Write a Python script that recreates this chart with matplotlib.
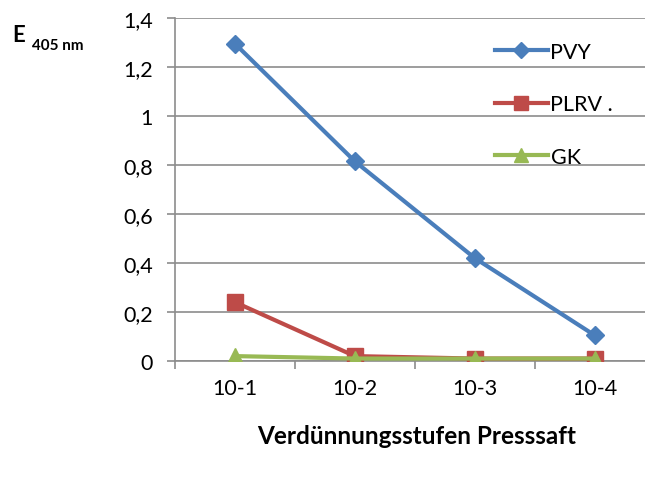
import matplotlib
matplotlib.use('Agg')
import matplotlib.pyplot as plt
from matplotlib.ticker import FuncFormatter

# Daten
stufen = ['10-1', '10-2', '10-3', '10-4']
pvy = [1.295, 0.815, 0.42, 0.105]
plrv = [0.24, 0.02, 0.01, 0.01]
gk = [0.02, 0.01, 0.01, 0.01]

plt.rcParams['font.family'] = ['Lato', 'DejaVu Sans']

fig = plt.figure(figsize=(6.45, 4.81), dpi=100)
ax = fig.add_axes([175/645, 119/481, 470/645, 343/481])

x = range(len(stufen))
ax.plot(x, pvy, color='#4A7EBB', lw=3, marker='D', ms=9, label='PVY', zorder=3)
ax.plot(x, plrv, color='#BE4B48', lw=3, marker='s', ms=12, label='PLRV .', zorder=3)
ax.plot(x, gk, color='#98B954', lw=3, marker='^', ms=12, label='GK', zorder=4)

ax.set_ylim(0, 1.4)
ax.set_yticks([0, 0.2, 0.4, 0.6, 0.8, 1.0, 1.2, 1.4])
ax.yaxis.set_major_formatter(FuncFormatter(lambda v, p: ('%g' % round(v, 1)).replace('.', ',')))
ax.set_xlim(-0.5, 3.42)
ax.set_xticks(x)
ax.set_xticklabels(stufen)
ax.set_xticks([-0.5, 0.5, 1.5, 2.5], minor=True)

ax.grid(axis='y', color='#8c8c8c', lw=1.2)
ax.set_axisbelow(True)
for s in ['top', 'right']:
    ax.spines[s].set_visible(False)
for s in ['left', 'bottom']:
    ax.spines[s].set_color('#8c8c8c')
    ax.spines[s].set_linewidth(1.2)

ax.tick_params(axis='y', length=6, width=1.2, color='#8c8c8c', labelsize=15.5, pad=10)
ax.tick_params(axis='x', which='major', length=0, labelsize=15.5, pad=12)
ax.tick_params(axis='x', which='minor', length=6, width=1.2, color='#8c8c8c')

fig.text(417/645, 1 - 436/481, 'Verdünnungsstufen Presssaft', ha='center', va='center',
         fontsize=17.5, fontweight='bold')
fig.text(12/645, 1 - 42/481, 'E', ha='left', va='baseline', fontsize=16, fontweight='bold')
fig.text(32/645, 1 - 50/481, '405 nm', ha='left', va='baseline', fontsize=11, fontweight='bold')

leg = ax.legend(loc='upper left', bbox_to_anchor=(298/470, 0.994), frameon=False, fontsize=15.5,
                handlelength=2.5, handletextpad=0.1, labelspacing=1.52, borderaxespad=0.6,
                markerscale=0.85)

fig.savefig('out.png', dpi=100)
